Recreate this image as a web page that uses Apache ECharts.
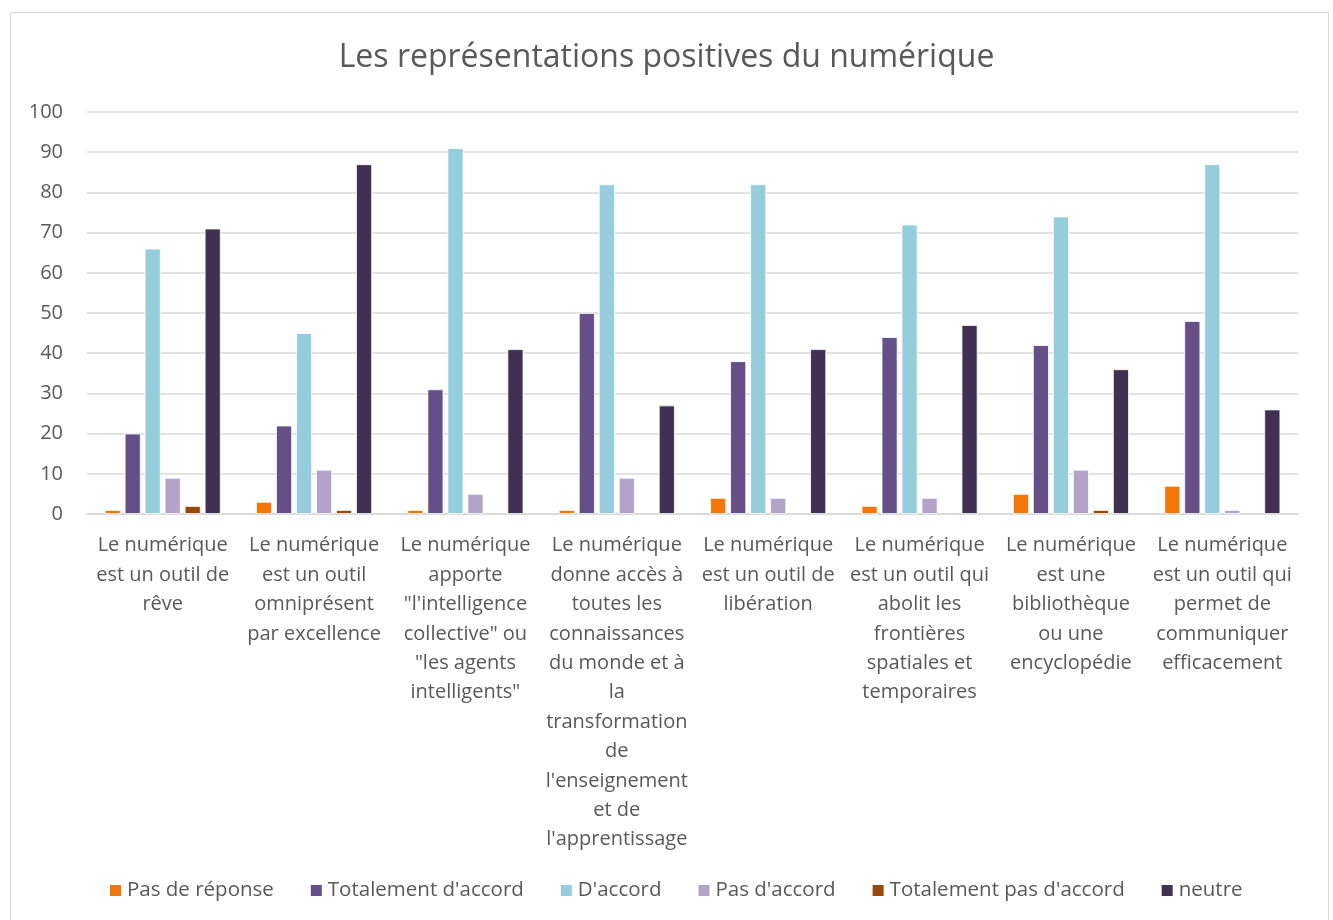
<!DOCTYPE html>
<html>
<head>
<meta charset="utf-8">
<script src="https://cdn.jsdelivr.net/npm/echarts@6/dist/echarts.min.js"></script>
<style>
  html, body { margin: 0; padding: 0; background: #fff; }
  #chart { width: 1333px; height: 920px; }
</style>
</head>
<body>
<div id="chart"></div>
<script>
// Statements shown on the category axis (line breaks as they wrap under each group)
const categories = [
  "Le numérique\nest un outil de\nrêve",
  "Le numérique\nest un outil\nomniprésent\npar excellence",
  "Le numérique\napporte\n\"l'intelligence\ncollective\" ou\n\"les agents\nintelligents\"",
  "Le numérique\ndonne accès à\ntoutes les\nconnaissances\ndu monde et à\nla\ntransformation\nde\nl'enseignement\net de\nl'apprentissage",
  "Le numérique\nest un outil de\nlibération",
  "Le numérique\nest un outil qui\nabolit les\nfrontières\nspatiales et\ntemporaires",
  "Le numérique\nest une\nbibliothèque\nou une\nencyclopédie",
  "Le numérique\nest un outil qui\npermet de\ncommuniquer\nefficacement"
];

// Responses per statement
const pasDeReponse        = [1, 3, 1, 1, 4, 2, 5, 7];
const totalementDAccord   = [20, 22, 31, 50, 38, 44, 42, 48];
const dAccord             = [66, 45, 91, 82, 82, 72, 74, 87];
const pasDAccord          = [9, 11, 5, 9, 4, 4, 11, 1];
const totalementPasDAccord = [2, 1, 0, 0, 0, 0, 1, 0];
const neutre              = [71, 87, 41, 27, 41, 47, 36, 26];

const yTicks = [0, 10, 20, 30, 40, 50, 60, 70, 80, 90, 100];

const seriesDefs = [
  { name: "Pas de réponse", data: pasDeReponse, color: "#F4760B" },
  { name: "Totalement d'accord", data: totalementDAccord, color: "#664F86" },
  { name: "D'accord", data: dAccord, color: "#95CDDD" },
  { name: "Pas d'accord", data: pasDAccord, color: "#B3A3C8" },
  { name: "Totalement pas d'accord", data: totalementPasDAccord, color: "#984807" },
  { name: "neutre", data: neutre, color: "#403152" }
];

const FONT = "'Open Sans', 'Noto Sans', sans-serif";
const TEXT = "#595959";

const chart = echarts.init(document.getElementById("chart"), null, { renderer: "canvas" });

chart.setOption({
  backgroundColor: "#ffffff",
  animation: false,
  graphic: [{
    type: "rect",
    shape: { x: 10.5, y: 12.5, width: 1318, height: 920 },
    style: { fill: "none", stroke: "#d9d9d9", lineWidth: 1 },
    silent: true
  }],
  title: {
    text: "Les représentations positives du numérique",
    left: "center",
    top: 37,
    textStyle: { fontFamily: FONT, fontSize: 32, fontWeight: "normal", color: TEXT }
  },
  legend: {
    bottom: 14,
    left: 103,
    itemWidth: 13,
    itemHeight: 13,
    itemGap: 35,
    icon: "rect",
    textStyle: { fontFamily: FONT, fontSize: 20.5, color: TEXT },
    data: seriesDefs.map(s => s.name)
  },
  grid: { left: 87, right: 35, top: 112, bottom: 406, containLabel: false },
  xAxis: {
    type: "category",
    data: categories,
    axisLine: { lineStyle: { color: "#d9d9d9", width: 1.5 } },
    axisTick: { show: false },
    axisLabel: {
      interval: 0,
      fontFamily: FONT,
      fontSize: 20,
      color: TEXT,
      lineHeight: 29.4,
      margin: 17,
      align: "center"
    }
  },
  yAxis: {
    type: "value",
    min: yTicks[0],
    max: yTicks[yTicks.length - 1],
    interval: 10,
    axisLine: { show: false },
    axisTick: { show: false },
    splitLine: { lineStyle: { color: "#d9d9d9", width: 1.5 } },
    axisLabel: { fontFamily: FONT, fontSize: 20, color: TEXT, margin: 24 }
  },
  series: seriesDefs.map(s => ({
    name: s.name,
    type: "bar",
    // zero answers draw no bar at all
    data: s.data.map(v => (v === 0 ? null : v)),
    barWidth: 16,
    barGap: "25%",
    itemStyle: { color: s.color, borderColor: "#ffffff", borderWidth: 0.8 },
    emphasis: { disabled: true }
  }))
});
</script>
</body>
</html>
